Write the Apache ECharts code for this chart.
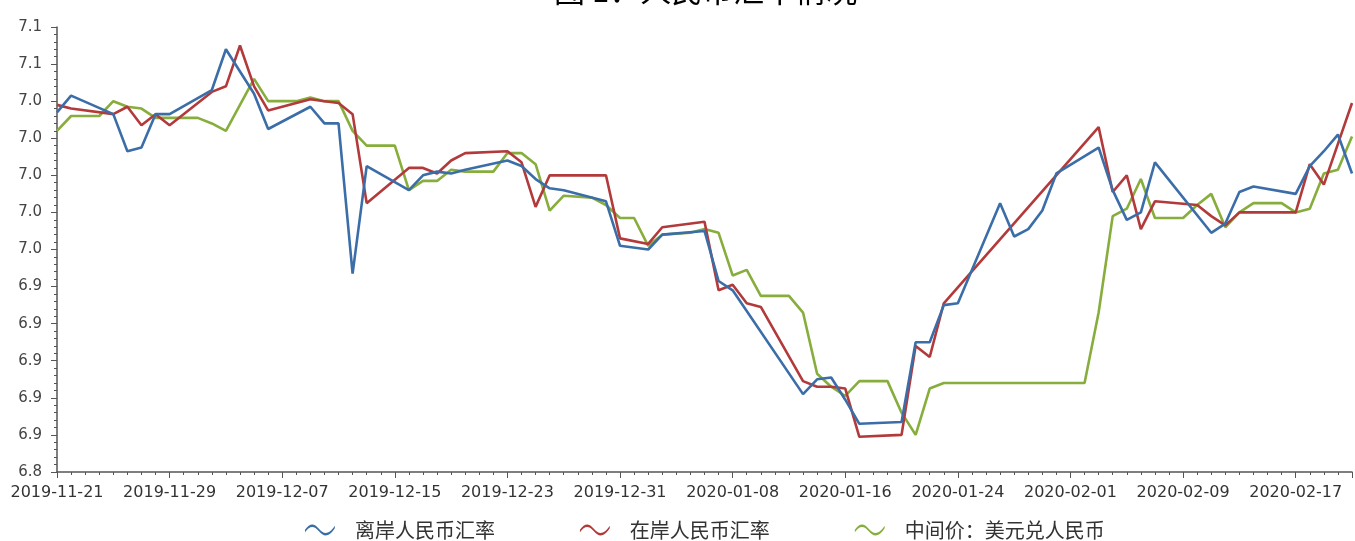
<!DOCTYPE html>
<html>
<head>
<meta charset="utf-8">
<script src="https://cdn.jsdelivr.net/npm/echarts@6/dist/echarts.min.js"></script>
<style>
  html, body { margin: 0; padding: 0; background: #fff; }
  #main { width: 1355px; height: 541px; }
</style>
</head>
<body>
<div id="main"></div>
<script>
// 数据：日期轴按自然日计算，周末/假日不补点（线段直接相连）
var startDate = "2019-11-21";
var dayCount = 92;
var xLabels = ["2019-11-21", "2019-11-29", "2019-12-07", "2019-12-15", "2019-12-23", "2019-12-31",
  "2020-01-08", "2020-01-16", "2020-01-24", "2020-02-01", "2020-02-09", "2020-02-17"];
var seriesNames = ["离岸人民币汇率", "在岸人民币汇率", "中间价：美元兑人民币"];

// 离岸人民币汇率
var cnhDates = ["2019-11-21", "2019-11-22", "2019-11-25", "2019-11-26", "2019-11-27", "2019-11-28", "2019-11-29",
  "2019-12-02", "2019-12-03", "2019-12-04", "2019-12-05", "2019-12-06", "2019-12-09", "2019-12-10", "2019-12-11",
  "2019-12-12", "2019-12-13", "2019-12-16", "2019-12-17", "2019-12-18", "2019-12-19", "2019-12-20", "2019-12-23",
  "2019-12-24", "2019-12-25", "2019-12-26", "2019-12-27", "2019-12-30", "2019-12-31", "2020-01-02", "2020-01-03",
  "2020-01-06", "2020-01-07", "2020-01-08", "2020-01-13", "2020-01-14", "2020-01-15", "2020-01-16", "2020-01-17",
  "2020-01-20", "2020-01-21", "2020-01-22", "2020-01-23", "2020-01-24", "2020-01-27", "2020-01-28", "2020-01-29",
  "2020-01-30", "2020-01-31", "2020-02-03", "2020-02-04", "2020-02-05", "2020-02-06", "2020-02-07", "2020-02-11",
  "2020-02-12", "2020-02-13", "2020-02-14", "2020-02-17", "2020-02-18", "2020-02-19", "2020-02-20", "2020-02-21"];
var cnhValues = [7.034, 7.043, 7.033, 7.013, 7.015, 7.033, 7.033,
  7.046, 7.068, 7.056, 7.044, 7.025, 7.037, 7.028, 7.028,
  6.947, 7.005, 6.992, 7.000, 7.002, 7.001, 7.003, 7.008,
  7.005, 6.998, 6.993, 6.992, 6.986, 6.962, 6.960, 6.968,
  6.970, 6.943, 6.938, 6.882, 6.890, 6.891, 6.879, 6.866,
  6.867, 6.910, 6.910, 6.930, 6.931, 6.985, 6.967, 6.971,
  6.981, 7.001, 7.015, 6.992, 6.976, 6.980, 7.007, 6.969,
  6.974, 6.991, 6.994, 6.990, 7.005, 7.013, 7.022, 7.001];

// 在岸人民币汇率
var cnyDates = ["2019-11-21", "2019-11-22", "2019-11-25", "2019-11-26", "2019-11-27", "2019-11-28", "2019-11-29",
  "2019-12-02", "2019-12-03", "2019-12-04", "2019-12-05", "2019-12-06", "2019-12-09", "2019-12-10", "2019-12-11",
  "2019-12-12", "2019-12-13", "2019-12-16", "2019-12-17", "2019-12-18", "2019-12-19", "2019-12-20", "2019-12-23",
  "2019-12-24", "2019-12-25", "2019-12-26", "2019-12-27", "2019-12-30", "2019-12-31", "2020-01-02", "2020-01-03",
  "2020-01-06", "2020-01-07", "2020-01-08", "2020-01-09", "2020-01-10", "2020-01-13", "2020-01-14", "2020-01-15",
  "2020-01-16", "2020-01-17", "2020-01-20", "2020-01-21", "2020-01-22", "2020-01-23", "2020-02-03", "2020-02-04",
  "2020-02-05", "2020-02-06", "2020-02-07", "2020-02-10", "2020-02-11", "2020-02-12", "2020-02-13", "2020-02-14",
  "2020-02-17", "2020-02-18", "2020-02-19", "2020-02-20", "2020-02-21"];
var cnyValues = [7.038, 7.036, 7.033, 7.037, 7.027, 7.033, 7.027,
  7.045, 7.048, 7.070, 7.048, 7.035, 7.041, 7.040, 7.039,
  7.033, 6.985, 7.004, 7.004, 7.001, 7.008, 7.012, 7.013,
  7.007, 6.983, 7.000, 7.000, 7.000, 6.966, 6.963, 6.972,
  6.975, 6.938, 6.941, 6.931, 6.929, 6.889, 6.886, 6.886,
  6.885, 6.859, 6.860, 6.908, 6.902, 6.931, 7.026, 6.991,
  7.000, 6.971, 6.986, 6.984, 6.978, 6.973, 6.980, 6.980,
  6.980, 7.006, 6.995, 7.017, 7.039];

// 中间价：美元兑人民币（非交易日沿用前值）
var midDates = ["2019-11-21", "2019-11-22", "2019-11-24", "2019-11-25", "2019-11-26", "2019-11-27", "2019-11-28",
  "2019-11-29", "2019-12-01", "2019-12-02", "2019-12-03", "2019-12-04", "2019-12-05", "2019-12-06", "2019-12-08",
  "2019-12-09", "2019-12-10", "2019-12-11", "2019-12-12", "2019-12-13", "2019-12-15", "2019-12-16", "2019-12-17",
  "2019-12-18", "2019-12-19", "2019-12-20", "2019-12-22", "2019-12-23", "2019-12-24", "2019-12-25", "2019-12-26",
  "2019-12-27", "2019-12-29", "2019-12-30", "2019-12-31", "2020-01-01", "2020-01-02", "2020-01-03", "2020-01-05",
  "2020-01-06", "2020-01-07", "2020-01-08", "2020-01-09", "2020-01-10", "2020-01-12", "2020-01-13", "2020-01-14",
  "2020-01-15", "2020-01-16", "2020-01-17", "2020-01-19", "2020-01-20", "2020-01-21", "2020-01-22", "2020-01-23",
  "2020-02-02", "2020-02-03", "2020-02-04", "2020-02-05", "2020-02-06", "2020-02-07", "2020-02-09", "2020-02-10",
  "2020-02-11", "2020-02-12", "2020-02-13", "2020-02-14", "2020-02-16", "2020-02-17", "2020-02-18", "2020-02-19",
  "2020-02-20", "2020-02-21"];
var midValues = [7.024, 7.032, 7.032, 7.040, 7.037, 7.036, 7.031,
  7.031, 7.031, 7.028, 7.024, 7.038, 7.052, 7.040, 7.040,
  7.042, 7.040, 7.040, 7.024, 7.016, 7.016, 6.992, 6.997,
  6.997, 7.003, 7.002, 7.002, 7.012, 7.012, 7.006, 6.981,
  6.989, 6.988, 6.984, 6.977, 6.977, 6.962, 6.968, 6.969,
  6.971, 6.969, 6.946, 6.949, 6.935, 6.935, 6.926, 6.893,
  6.886, 6.881, 6.889, 6.889, 6.872, 6.860, 6.885, 6.888,
  6.888, 6.926, 6.978, 6.982, 6.998, 6.977, 6.977, 6.984,
  6.990, 6.972, 6.980, 6.985, 6.985, 6.980, 6.982, 7.001,
  7.003, 7.021];

var colors = ["#3b6ea8", "#b23a3b", "#87ad3c"];

function dayIndex(d) {
  return Math.round((Date.parse(d) - Date.parse(startDate)) / 86400000);
}
function toPoints(dates, values) {
  return dates.map(function (d, k) {
    return [dayIndex(d), values[k]];
  });
}

var myChart = echarts.init(document.getElementById("main"));
var fontFamily = "'DejaVu Sans', 'Noto Sans CJK SC', sans-serif";
var waveIcon = "path://M0,7 C5,0 9,0 14,6 C19,12 24,12 30,3 L30,5.5 C24,14.5 19,14.5 14,8.5 C9,2.5 5,2.5 0,9.5 Z";

var option = {
  backgroundColor: "#fff",
  animation: false,
  color: colors,
  title: {
    text: "图 1：人民币汇率情况",
    left: 549,
    top: -30,
    textStyle: { fontSize: 31, fontWeight: "normal", color: "#000", fontFamily: "'Noto Sans CJK SC', sans-serif" },
  },
  grid: { left: 57, right: 2, top: 27, bottom: 69 },
  legend: {
    left: 300,
    top: 515,
    icon: waveIcon,
    itemWidth: 30,
    itemHeight: 11,
    itemGap: 85,
    textStyle: { fontSize: 20, color: "#333", fontFamily: "'Noto Sans CJK SC', sans-serif", padding: [0, 0, 0, 15] },
    data: seriesNames,
  },
  xAxis: {
    type: "value",
    min: 0,
    max: dayCount,
    interval: 8,
    splitLine: { show: false },
    axisLine: { lineStyle: { color: "#555", width: 1.5 } },
    axisTick: { length: 6, lineStyle: { color: "#555" } },
    minorTick: { show: true, splitNumber: 8, length: 3, lineStyle: { color: "#555" } },
    axisLabel: {
      fontSize: 16,
      color: "#333",
      fontFamily: fontFamily,
      margin: 13,
      formatter: function (v) {
        return v % 8 === 0 ? xLabels[v / 8] || "" : "";
      },
    },
  },
  yAxis: {
    type: "value",
    min: 6.84,
    max: 7.08,
    interval: 0.02,
    splitLine: { show: false },
    axisLine: { show: true, lineStyle: { color: "#555", width: 1.5 } },
    axisTick: { show: true, length: 6, lineStyle: { color: "#555" } },
    minorTick: { show: true, splitNumber: 5, length: 3, lineStyle: { color: "#555" } },
    axisLabel: {
      fontSize: 15,
      color: "#444",
      fontFamily: fontFamily,
      margin: 15,
      formatter: function (v) {
        return v.toFixed(1);
      },
    },
  },
  series: [
    { name: seriesNames[0], data: toPoints(cnhDates, cnhValues) },
    { name: seriesNames[1], data: toPoints(cnyDates, cnyValues) },
    { name: seriesNames[2], data: toPoints(midDates, midValues) },
  ].map(function (s, k) {
    return {
      name: s.name,
      type: "line",
      data: s.data,
      showSymbol: false,
      lineStyle: { width: 2.6, color: colors[k] },
      itemStyle: { color: colors[k] },
      z: 3 - k,
    };
  }),
};
myChart.setOption(option);
</script>
</body>
</html>
